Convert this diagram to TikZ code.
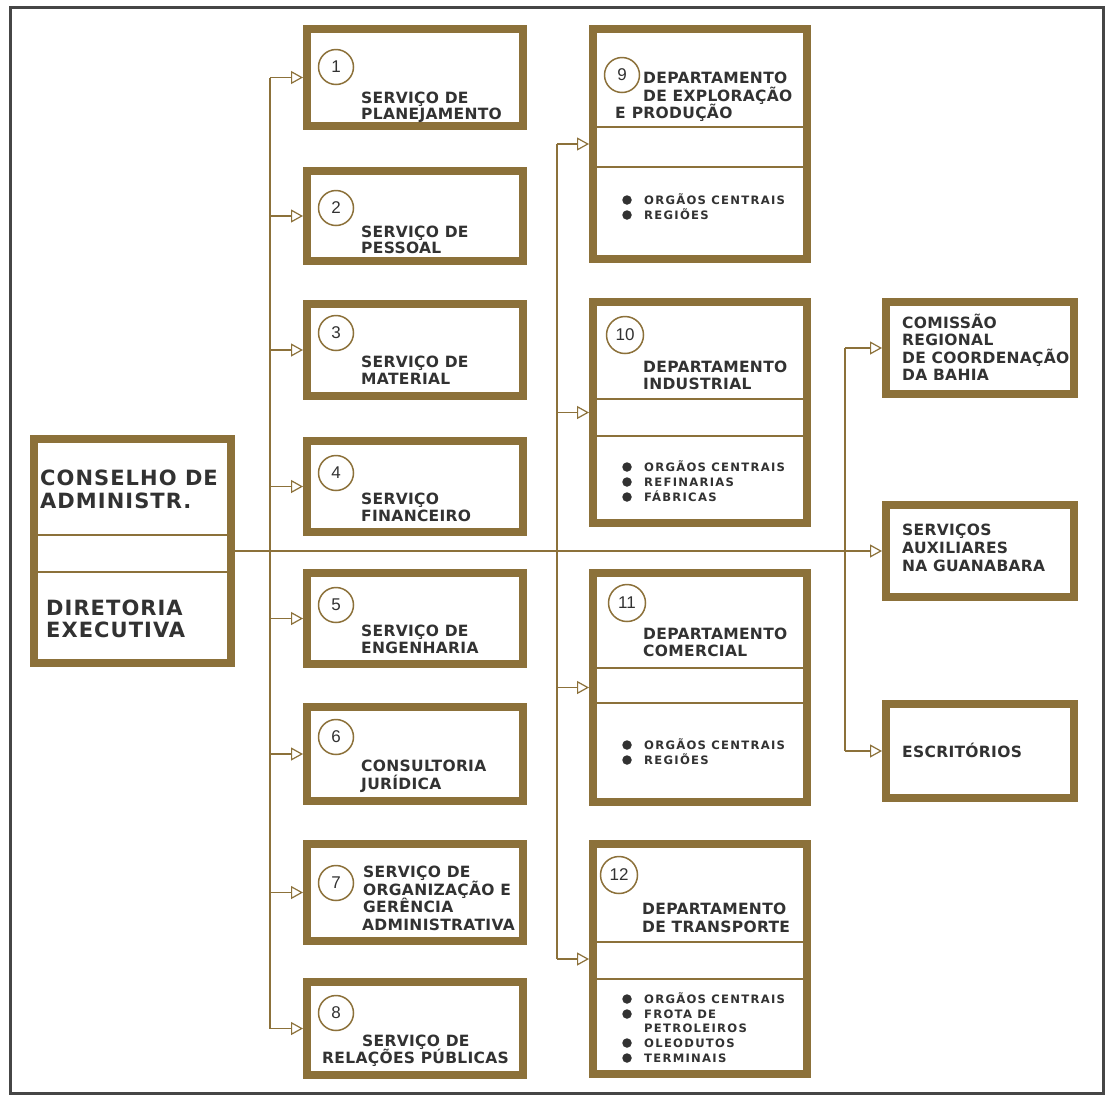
\documentclass[tikz,border=0pt]{standalone}
\usepackage{fontspec}
\setmainfont{Liberation Sans}
\newfontfamily\bxA{DejaVu Sans}[LetterSpace=2]
\newfontfamily\bxB{DejaVu Sans}[LetterSpace=5]
\newfontfamily\bxC{DejaVu Sans}[LetterSpace=11]
\usetikzlibrary{arrows.meta}
\definecolor{gold}{RGB}{140,113,58}
\definecolor{ink}{RGB}{50,50,50}
\definecolor{framec}{RGB}{70,70,70}
\newcommand\Ln[4]{\node[lbl] (#1) at (#2,#3) {#4};}
\newcommand\Bg[4]{\node[big] (#1) at (#2,#3) {#4};}
\newcommand\It[4]{\node[item] (#1) at (#2,#3) {#4};}
\begin{document}
\begin{tikzpicture}[x=1pt,y=-1pt,
  box/.style={draw=gold, line width=8pt, inner sep=0pt, rectangle, fill=white},
  lbl/.style={text=ink, font=\bxA\bfseries\fontsize{15.5}{17}\selectfont, inner sep=0pt, anchor=base west},
  big/.style={text=ink, font=\bxB\bfseries\fontsize{21}{22}\selectfont, inner sep=0pt, anchor=base west},
  item/.style={text=ink, font=\bxC\bfseries\fontsize{11.6}{14}\selectfont, inner sep=0pt, anchor=base west},
  num/.style={circle, draw=gold, line width=1.5pt, minimum size=35pt, inner sep=0pt, text=ink, font=\fontsize{17}{17}\selectfont},
  conn/.style={draw=gold, line width=1.2pt, -{Triangle[open, length=12pt, width=13pt]}},
  trunk/.style={draw=gold, line width=1.2pt},
  div/.style={draw=gold, line width=1.8pt},
  dot/.style={circle, fill=ink, minimum size=9.5pt, inner sep=0pt}]
\useasboundingbox (0,0) rectangle (1113,1096);
\fill[white] (0,0) rectangle (1113,1096);
\draw[framec, line width=3pt] (10,7) rectangle (1103,1093);

% trunk coordinates
\coordinate (t1) at (270,551);
\coordinate (t2) at (557,551);
\coordinate (t3) at (845,551);

% boxes
\node[box, minimum width=197pt, minimum height=224pt] (cons) at (132.5,551) {};
\node[box, minimum width=216pt, minimum height=97pt] (s1) at (415,77.5) {};
\node[box, minimum width=216pt, minimum height=90pt] (s2) at (415,216) {};
\node[box, minimum width=216pt, minimum height=92pt] (s3) at (415,350) {};
\node[box, minimum width=216pt, minimum height=91pt] (s4) at (415,486.5) {};
\node[box, minimum width=216pt, minimum height=91pt] (s5) at (415,618.5) {};
\node[box, minimum width=216pt, minimum height=94pt] (s6) at (415,754) {};
\node[box, minimum width=216pt, minimum height=97pt] (s7) at (415,892.5) {};
\node[box, minimum width=216pt, minimum height=93pt] (s8) at (415,1028.5) {};
\node[box, minimum width=214pt, minimum height=230pt] (d9) at (700,144) {};
\node[box, minimum width=214pt, minimum height=221pt] (d10) at (700,412.5) {};
\node[box, minimum width=214pt, minimum height=229pt] (d11) at (700,687.5) {};
\node[box, minimum width=214pt, minimum height=230pt] (d12) at (700,959) {};
\node[box, minimum width=188pt, minimum height=92pt] (cA) at (980,348) {};
\node[box, minimum width=188pt, minimum height=92pt] (aux) at (980,551) {};
\node[box, minimum width=188pt, minimum height=94pt] (esc) at (980,751) {};

% dividers
\draw[div] (34,535) -- (231,535);
\draw[div] (34,572) -- (231,572);
\foreach \y in {127,167,399,436,668,703,942,979}
  \draw[div] (593,\y) -- (807,\y);

% connectors
\draw[conn] (cons.east) -- (aux.west);
\draw[trunk] (t1 |- s1.west) -- (t1 |- s8.west);
\foreach \b in {s1,s2,s3,s4,s5,s6,s7,s8}
  \draw[conn] (t1 |- \b.west) -- (\b.west);
\draw[trunk] (t2 |- d9.west) -- (t2 |- d12.west);
\foreach \b in {d9,d10,d11,d12}
  \draw[conn] (t2 |- \b.west) -- (\b.west);
\draw[trunk] (t3 |- cA.west) -- (t3 |- esc.west);
\draw[conn] (t3 |- cA.west) -- (cA.west);
\draw[conn] (t3 |- esc.west) -- (esc.west);

% number circles
\node[num] (n1) at (336,67) {1};
\node[num] (n2) at (336,208) {2};
\node[num] (n3) at (336,333) {3};
\node[num] (n4) at (336,473) {4};
\node[num] (n5) at (336,605) {5};
\node[num] (n6) at (336,737) {6};
\node[num] (n7) at (336,883) {7};
\node[num] (n8) at (336,1013) {8};
\node[num] (n9) at (622,75) {9};
\node[num, minimum size=37pt] (n10) at (625,335) {10};
\node[num, minimum size=37pt] (n11) at (627,603) {11};
\node[num, minimum size=37pt] (n12) at (619,875) {12};

% conselho text
\Bg{c1}{40}{485}{CONSELHO DE}
\Bg{c2}{40}{508}{ADMINISTR.}
\Bg{c3}{46}{615}{DIRETORIA}
\Bg{c4}{46}{637}{EXECUTIVA}

% column 1 text
\Ln{a1}{361}{103}{SERVIÇO DE}
\Ln{a2}{361}{119}{PLANEJAMENTO}
\Ln{b1}{361}{237.5}{SERVIÇO DE}
\Ln{b2}{361}{253}{PESSOAL}
\Ln{e1}{361}{367.5}{SERVIÇO DE}
\Ln{e2}{361}{384.5}{MATERIAL}
\Ln{f1}{361}{504}{SERVIÇO}
\Ln{f2}{361}{521.5}{FINANCEIRO}
\Ln{g1}{361}{636.5}{SERVIÇO DE}
\Ln{g2}{361}{653.5}{ENGENHARIA}
\Ln{h1}{361}{771.5}{CONSULTORIA}
\Ln{h2}{361}{789}{JURÍDICA}
\Ln{k1}{363}{877}{SERVIÇO DE}
\Ln{k2}{363}{895}{ORGANIZAÇÃO E}
\Ln{k3}{363}{912.5}{GERÊNCIA}
\Ln{k4}{362}{930.5}{ADMINISTRATIVA}
\Ln{m1}{362}{1046}{SERVIÇO DE}
\Ln{m2}{322}{1063.5}{RELAÇÕES PÚBLICAS}

% column 2 text
\Ln{p1}{643}{83.5}{DEPARTAMENTO}
\Ln{p2}{643}{101}{DE EXPLORAÇÃO}
\Ln{p3}{615}{118.5}{E\hspace{6pt}PRODUÇÃO}
\Ln{q1}{643}{372.5}{DEPARTAMENTO}
\Ln{q2}{643}{389.5}{INDUSTRIAL}
\Ln{r1}{643}{639.5}{DEPARTAMENTO}
\Ln{r2}{643}{656.5}{COMERCIAL}
\Ln{u1}{642}{914.5}{DEPARTAMENTO}
\Ln{u2}{642}{932}{DE TRANSPORTE}

% bullet items
\foreach \y [count=\i] in {200,215,467,482,497,745,760,999,1014,1043,1058}
  \node[dot] (dt\i) at (627,\y) {};
\It{i1}{644}{204}{ORGÃOS CENTRAIS}
\It{i2}{644}{219}{REGIÕES}
\It{i3}{644}{471}{ORGÃOS CENTRAIS}
\It{i4}{644}{486}{REFINARIAS}
\It{i5}{644}{501}{FÁBRICAS}
\It{i6}{644}{749}{ORGÃOS CENTRAIS}
\It{i7}{644}{764}{REGIÕES}
\It{i8}{644}{1003}{ORGÃOS CENTRAIS}
\It{i9}{644}{1018}{FROTA DE}
\It{i10}{644}{1032}{PETROLEIROS}
\It{i11}{644}{1047}{OLEODUTOS}
\It{i12}{644}{1062}{TERMINAIS}

% column 3 text
\Ln{w1}{902}{328.5}{COMISSÃO}
\Ln{w2}{902}{345.5}{REGIONAL}
\Ln{w3}{902}{363.5}{DE COORDENAÇÃO}
\Ln{w4}{902}{380.5}{DA BAHIA}
\Ln{x1}{902}{535.5}{SERVIÇOS}
\Ln{x2}{902}{553.5}{AUXILIARES}
\Ln{x3}{902}{571.5}{NA GUANABARA}
\Ln{y1}{902}{757.5}{ESCRITÓRIOS}
\end{tikzpicture}
\end{document}
